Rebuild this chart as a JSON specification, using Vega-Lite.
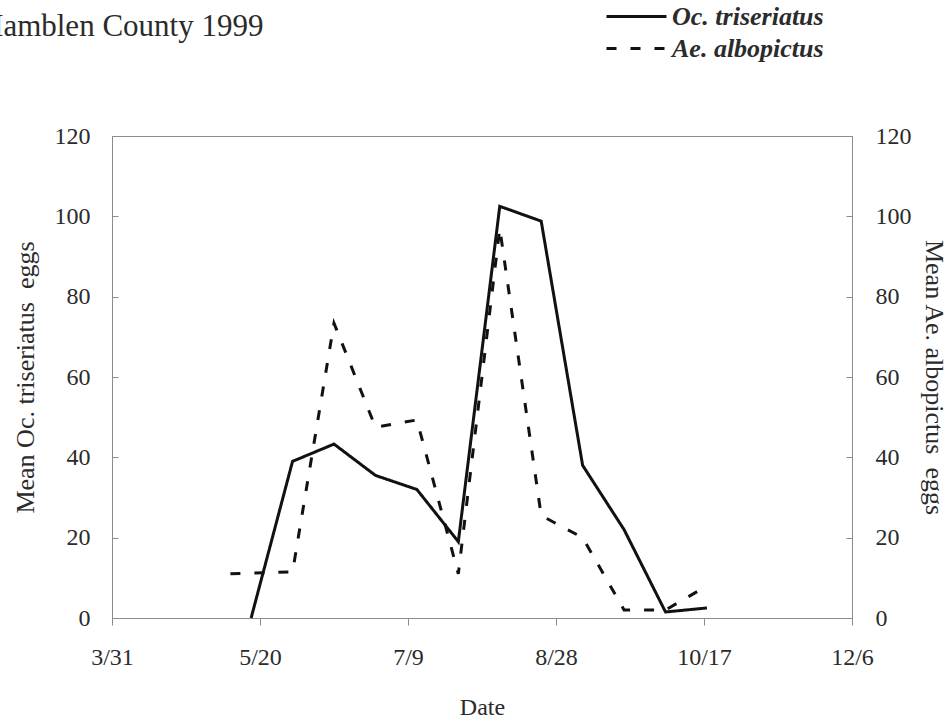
{
  "$schema": "https://vega.github.io/schema/vega-lite/v6.json",
  "width": 740,
  "height": 482,
  "autosize": {"type": "none"},
  "padding": {"left": 112, "top": 136, "right": 96, "bottom": 104},
  "background": "white",
  "title": {
    "text": "Hamblen County 1999",
    "anchor": "start",
    "frame": "group",
    "dx": -131,
    "dy": 67,
    "offset": 0,
    "baseline": "alphabetic",
    "font": "Liberation Serif",
    "fontSize": 31,
    "fontWeight": "normal",
    "color": "#2b2b2b"
  },
  "data": {
    "values": [
      {"date": "1999-05-17T00:00", "species": "Oc. triseriatus", "eggs": 0},
      {"date": "1999-05-31T00:00", "species": "Oc. triseriatus", "eggs": 39},
      {"date": "1999-06-14T00:00", "species": "Oc. triseriatus", "eggs": 43.3},
      {"date": "1999-06-28T00:00", "species": "Oc. triseriatus", "eggs": 35.5},
      {"date": "1999-07-12T00:00", "species": "Oc. triseriatus", "eggs": 32},
      {"date": "1999-07-26T00:00", "species": "Oc. triseriatus", "eggs": 19},
      {"date": "1999-08-09T00:00", "species": "Oc. triseriatus", "eggs": 102.5},
      {"date": "1999-08-23T00:00", "species": "Oc. triseriatus", "eggs": 98.8},
      {"date": "1999-09-06T00:00", "species": "Oc. triseriatus", "eggs": 38},
      {"date": "1999-09-20T00:00", "species": "Oc. triseriatus", "eggs": 22},
      {"date": "1999-10-04T00:00", "species": "Oc. triseriatus", "eggs": 1.5},
      {"date": "1999-10-18T00:00", "species": "Oc. triseriatus", "eggs": 2.5},
      {"date": "1999-05-10T00:00", "species": "Ae. albopictus", "eggs": 11},
      {"date": "1999-05-31T00:00", "species": "Ae. albopictus", "eggs": 11.5},
      {"date": "1999-06-14T00:00", "species": "Ae. albopictus", "eggs": 73.4},
      {"date": "1999-06-28T00:00", "species": "Ae. albopictus", "eggs": 47.5},
      {"date": "1999-07-12T00:00", "species": "Ae. albopictus", "eggs": 49.3},
      {"date": "1999-07-26T00:00", "species": "Ae. albopictus", "eggs": 11},
      {"date": "1999-08-09T00:00", "species": "Ae. albopictus", "eggs": 97},
      {"date": "1999-08-23T00:00", "species": "Ae. albopictus", "eggs": 25.5},
      {"date": "1999-09-06T00:00", "species": "Ae. albopictus", "eggs": 20},
      {"date": "1999-09-20T00:00", "species": "Ae. albopictus", "eggs": 2},
      {"date": "1999-10-04T00:00", "species": "Ae. albopictus", "eggs": 2},
      {"date": "1999-10-18T00:00", "species": "Ae. albopictus", "eggs": 8}
    ]
  },
  "encoding": {
    "x": {
      "field": "date",
      "type": "temporal",
      "scale": {
        "domain": [
          {"year": 1999, "month": 3, "date": 31},
          {"year": 1999, "month": 12, "date": 6}
        ]
      },
      "axis": {
        "title": "Date",
        "values": [
          {"year": 1999, "month": 3, "date": 31},
          {"year": 1999, "month": 5, "date": 20},
          {"year": 1999, "month": 7, "date": 9},
          {"year": 1999, "month": 8, "date": 28},
          {"year": 1999, "month": 10, "date": 17},
          {"year": 1999, "month": 12, "date": 6}
        ],
        "format": "%-m/%-d",
        "grid": false,
        "tickSize": 7,
        "labelPadding": 20,
        "titlePadding": 26,
        "labelFlush": false
      }
    },
    "strokeDash": {
      "field": "species",
      "type": "nominal",
      "scale": {
        "domain": ["Oc. triseriatus", "Ae. albopictus"],
        "range": [[1, 0], [10, 14]]
      },
      "legend": {
        "orient": "none",
        "legendX": 508,
        "legendY": -136,
        "title": null,
        "symbolType": "M-2,0H2",
        "symbolSize": 900,
        "symbolStrokeWidth": 3,
        "symbolStrokeColor": "#111111",
        "labelFont": "Liberation Serif",
        "labelFontSize": 26,
        "labelFontStyle": "italic",
        "labelFontWeight": "bold",
        "labelColor": "#2b2b2b",
        "labelOffset": 19,
        "rowPadding": 2,
        "padding": 0
      }
    }
  },
  "layer": [
    {
      "transform": [{"filter": "datum.species === 'Oc. triseriatus'"}],
      "mark": {"type": "line", "color": "#111111", "strokeWidth": 3, "strokeJoin": "miter"},
      "encoding": {
        "y": {
          "field": "eggs",
          "type": "quantitative",
          "scale": {"domain": [0, 120]},
          "axis": {
            "orient": "left",
            "title": "Mean Oc. triseriatus\u00a0\u00a0eggs",
            "values": [0, 20, 40, 60, 80, 100, 120],
            "grid": false,
            "tickSize": -6,
            "labelPadding": 28,
            "titleFontSize": 26,
            "titleAngle": -90,
            "titleBaseline": "middle",
            "titleX": -87,
            "titleY": 241
          }
        }
      }
    },
    {
      "transform": [{"filter": "datum.species === 'Ae. albopictus'"}],
      "mark": {"type": "line", "color": "#111111", "strokeWidth": 3, "strokeJoin": "miter"},
      "encoding": {
        "y": {
          "field": "eggs",
          "type": "quantitative",
          "scale": {"domain": [0, 120]},
          "axis": {
            "orient": "right",
            "title": "Mean Ae. albopictus\u00a0\u00a0eggs",
            "values": [0, 20, 40, 60, 80, 100, 120],
            "grid": false,
            "tickSize": -6,
            "labelPadding": 29,
            "titleFontSize": 26,
            "titleAngle": 90,
            "titleBaseline": "middle",
            "titleX": 81,
            "titleY": 241
          }
        }
      }
    }
  ],
  "resolve": {"scale": {"y": "independent"}},
  "config": {
    "view": {"stroke": "#8c8c8c", "strokeWidth": 1},
    "axis": {
      "domainColor": "#8c8c8c",
      "tickColor": "#8c8c8c",
      "labelFont": "Liberation Serif",
      "labelFontSize": 24,
      "labelColor": "#2b2b2b",
      "titleFont": "Liberation Serif",
      "titleFontSize": 24,
      "titleFontWeight": "normal",
      "titleColor": "#2b2b2b"
    }
  }
}
